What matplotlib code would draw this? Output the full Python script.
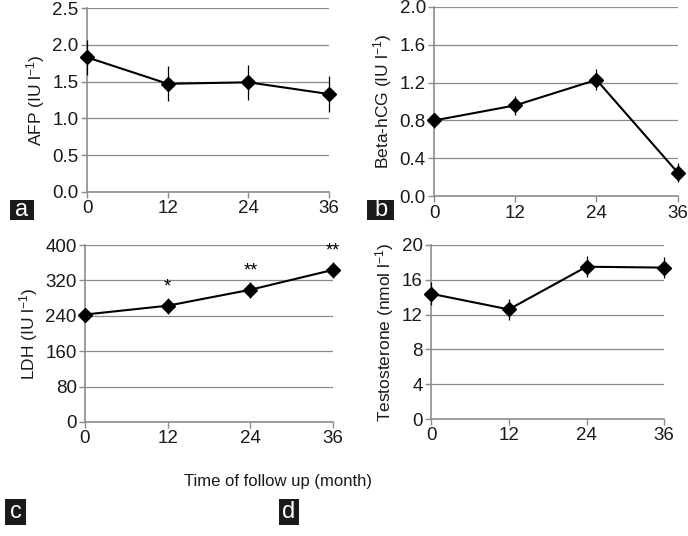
import numpy as np
import matplotlib
matplotlib.use('Agg')
import matplotlib.pyplot as plt
from matplotlib.patches import Rectangle

plt.rcParams['font.family'] = ['Liberation Sans', 'DejaVu Sans']
plt.rcParams['mathtext.fontset'] = 'custom'
plt.rcParams['mathtext.rm'] = 'Liberation Sans'
plt.rcParams['mathtext.it'] = 'Liberation Sans'

months = [0, 12, 24, 36]

afp = [1.83, 1.47, 1.49, 1.33]
afp_err = [0.24, 0.24, 0.24, 0.24]

hcg = [0.80, 0.96, 1.23, 0.25]
hcg_err = [0.08, 0.10, 0.11, 0.10]

ldh = [243, 263, 299, 344]
ldh_err = [12, 18, 18, 18]
ldh_marks = ['', '*', '**', '**']

testo = [14.4, 12.6, 17.5, 17.4]
testo_err = [1.3, 1.2, 1.2, 1.2]

W, H = 688, 536

panels = [
    # values, errors, ylabel, ymax, yticks, fmt, axes rect, letter, letter box (px)
    (afp, afp_err, r'AFP (IU l$^{-1}$)', 2.5, np.arange(0, 2.51, 0.5), '%.1f',
     [0.1265, 0.642, 0.352, 0.343], 'a', (10, 200, 24, 20)),
    (hcg, hcg_err, r'Beta-hCG (IU l$^{-1}$)', 2.0, np.arange(0, 2.01, 0.4), '%.1f',
     [0.631, 0.634, 0.354, 0.353], 'b', (367, 200, 27, 20)),
    (ldh, ldh_err, r'LDH (IU l$^{-1}$)', 400, np.arange(0, 401, 80), '%d',
     [0.1235, 0.2127, 0.3605, 0.330], 'c', (5, 499, 21, 26)),
    (testo, testo_err, r'Testosterone (nmol l$^{-1}$)', 20, np.arange(0, 21, 4), '%d',
     [0.6265, 0.218, 0.339, 0.325], 'd', (279, 499, 20, 26)),
]

fig = plt.figure(figsize=(6.88, 5.36), dpi=100)

for i, (vals, errs, ylab, ymax, yt, fmt, rect, letter, box) in enumerate(panels):
    ax = fig.add_axes(rect)
    ax.errorbar(months, vals, yerr=errs, fmt='none', ecolor='black', elinewidth=0.9,
                capsize=0, clip_on=False, zorder=3)
    ax.plot(months, vals, color='black', linewidth=1.5, marker='D', markersize=7.5,
            clip_on=False, zorder=4)
    ax.set_xlim(0, 36)
    ax.set_ylim(0, ymax)
    ax.set_xticks(months)
    ax.set_yticks(yt)
    ax.set_yticklabels([fmt % v for v in yt])
    ax.yaxis.grid(True, color='#8c8c8c', linewidth=0.9)
    ax.set_axisbelow(True)
    for s in ['top', 'right']:
        ax.spines[s].set_visible(False)
    for s in ['left', 'bottom']:
        ax.spines[s].set_color('#8c8c8c')
        ax.spines[s].set_linewidth(1.2)
    ax.tick_params(axis='both', colors='#8c8c8c', labelcolor='#1a1a1a',
                   labelsize=13.5, length=4, width=1.0, pad=2)
    ax.set_ylabel(ylab, fontsize=12.5, color='#1a1a1a', labelpad=4)
    if i == 2:
        for x, v, e, m in zip(months, vals, errs, ldh_marks):
            if m:
                ax.text(x, v + e + 6, m, ha='center', va='bottom', fontsize=13,
                        clip_on=False)
    bx, by, bw, bh = box
    fig.patches.append(Rectangle((bx / W, 1 - (by + bh) / H), bw / W, bh / H,
                                 transform=fig.transFigure, facecolor='#1a1a1a',
                                 edgecolor='none'))
    fig.text((bx + bw / 2) / W, 1 - (by + bh / 2) / H, letter, fontsize=17, color='white',
             ha='center', va='center')

fig.text(0.404, 0.101, 'Time of follow up (month)', fontsize=12, ha='center', va='center',
         color='#1a1a1a')

fig.savefig('out.png', dpi=100)
